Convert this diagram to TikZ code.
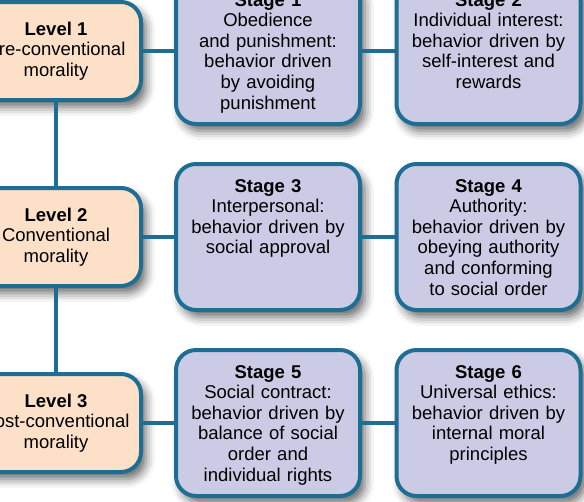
\documentclass[tikz,border=0pt]{standalone}
\usepackage{fontspec}
\setmainfont{Liberation Sans}
\usetikzlibrary{positioning, shadows.blur}
\definecolor{edgeblue}{RGB}{30,110,147}
\definecolor{stagefill}{RGB}{203,203,229}
\definecolor{levelfill}{RGB}{252,224,200}

\begin{document}
\begin{tikzpicture}[x=1pt, y=1pt, node distance=186pt, on grid,
    box/.style={draw=edgeblue, line width=4pt, rounded corners=20pt, align=center,
      font=\fontsize{18.5}{20.6}\selectfont,
      blur shadow={shadow xshift=5pt, shadow yshift=-7pt, shadow blur radius=9pt, shadow opacity=60}},
    level/.style={box, fill=levelfill, minimum width=170pt, minimum height=98pt, inner sep=0pt},
    stage/.style={box, fill=stagefill, text width=180pt, inner xsep=2pt, inner ysep=0pt,
      text height=28pt, text depth=118pt},
    link/.style={draw=edgeblue, line width=4pt}]
  \useasboundingbox (0,0) rectangle (584,-501);
  % levels
  \node[level] (l_1) at (56,-51) {\textbf{Level 1}\\Pre-conventional\\morality};
  \node[level] (l_2) [below=of l_1] {\textbf{Level 2}\\Conventional\\morality};
  \node[level] (l_3) [below=of l_2] {\textbf{Level 3}\\Post-conventional\\morality};
  % stages
  \node[stage] (s_1) [right=212pt of l_1] {\textbf{Stage 1}\\Obedience\\and punishment:\\behavior driven\\by avoiding\\punishment};
  \node[stage] (s_2) [right=220.5pt of s_1] {\textbf{Stage 2}\\Individual interest:\\behavior driven by\\self-interest and\\rewards};
  \node[stage] (s_3) [right=212pt of l_2] {\textbf{Stage 3}\\Interpersonal:\\behavior driven by\\social approval};
  \node[stage] (s_4) [right=220.5pt of s_3] {\textbf{Stage 4}\\Authority:\\behavior driven by\\obeying authority\\and conforming\\to social order};
  \node[stage] (s_5) [right=212pt of l_3] {\textbf{Stage 5}\\Social contract:\\behavior driven by\\balance of social\\order and\\individual rights};
  \node[stage] (s_6) [right=220.5pt of s_5] {\textbf{Stage 6}\\Universal ethics:\\behavior driven by\\internal moral\\principles};
  % connectors
  \path[link]
    (l_1) edge (l_2)
    (l_2) edge (l_3)
    (l_1) edge (s_1)
    (s_1) edge (s_2)
    (l_2) edge (s_3)
    (s_3) edge (s_4)
    (l_3) edge (s_5)
    (s_5) edge (s_6);
\end{tikzpicture}
\end{document}
